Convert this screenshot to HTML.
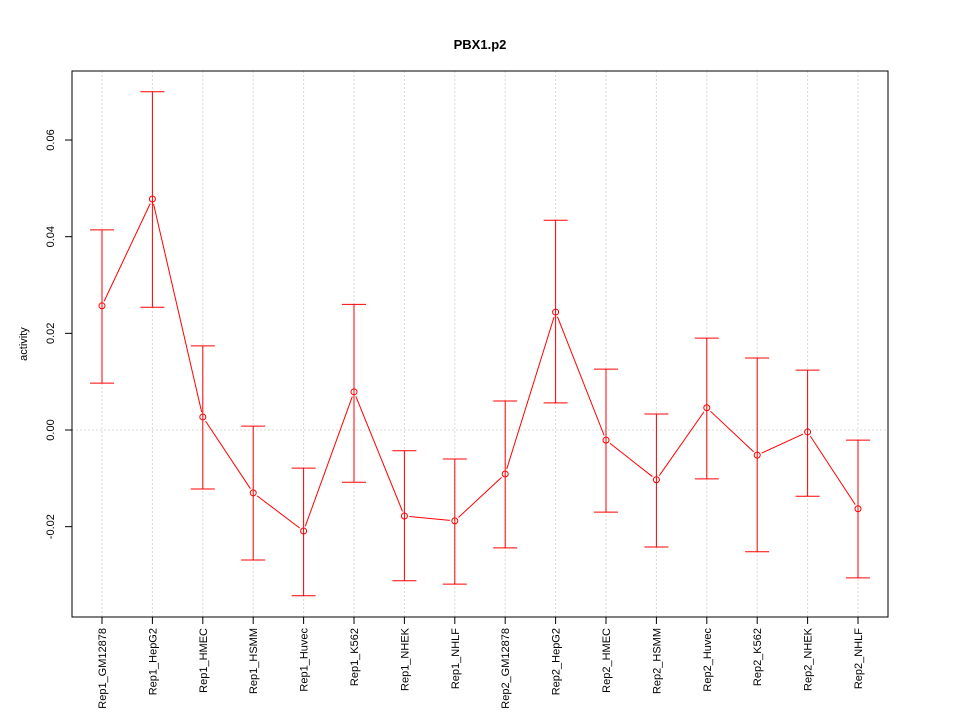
<!DOCTYPE html>
<html><head><meta charset="utf-8"><style>body{margin:0;background:#fff}svg{display:block;font-family:"Liberation Sans",sans-serif}</style></head>
<body>
<svg id="c" width="960" height="720">
<rect width="960" height="720" fill="#fff"/>
<text x="480" y="49" text-anchor="middle" font-size="13" font-weight="bold">PBX1.p2</text>
<text transform="translate(27,344) rotate(-90)" text-anchor="middle" font-size="11">activity</text>
<g id="g"></g>
<rect x="72" y="71" width="816" height="546" fill="none" stroke="#000"/>
</svg>
<script>
const categories=["Rep1_GM12878","Rep1_HepG2","Rep1_HMEC","Rep1_HSMM","Rep1_Huvec","Rep1_K562","Rep1_NHEK","Rep1_NHLF","Rep2_GM12878","Rep2_HepG2","Rep2_HMEC","Rep2_HSMM","Rep2_Huvec","Rep2_K562","Rep2_NHEK","Rep2_NHLF"];
const values=[0.0257,0.0478,0.0027,-0.013,-0.0209,0.0079,-0.0178,-0.0188,-0.0091,0.0244,-0.0021,-0.0103,0.0046,-0.0052,-0.0004,-0.0163];
const upper=[0.0414,0.070,0.0174,0.0008,-0.0079,0.026,-0.0043,-0.006,0.006,0.0434,0.0126,0.0033,0.019,0.0149,0.0124,-0.0021];
const lower=[0.0097,0.0254,-0.0122,-0.0269,-0.0343,-0.0108,-0.0312,-0.0319,-0.0244,0.0056,-0.017,-0.0242,-0.0101,-0.0252,-0.0137,-0.0306];
const yTicks=[-0.02,0,0.02,0.04,0.06];
const yTickLabels=["-0.02","0.00","0.02","0.04","0.06"];
const NS="http://www.w3.org/2000/svg",g=document.getElementById('g');
const X=i=>102+i*(858-102)/(categories.length-1);
const Y=v=>430-v*4833;
function el(t,a,p){const e=document.createElementNS(NS,t);for(const k in a)e.setAttribute(k,a[k]);(p||g).appendChild(e);return e;}
categories.forEach((c,i)=>{
 const gl=el('line',{x1:X(i),x2:X(i),y1:71,y2:617,stroke:'#d8d8d8','stroke-dasharray':'2,2'});
 
 
 const tk=el('line',{x1:X(i),x2:X(i),y1:617,y2:624,stroke:'#000'});
 
 
 const t=el('text',{transform:`translate(${X(i)+4},628) rotate(-90)`,'text-anchor':'end','font-size':11});
 t.textContent=c;
 
 
});
const zl=el('line',{x1:72,x2:888,y1:Y(0),y2:Y(0),stroke:'#d8d8d8','stroke-dasharray':'2,2'});


yTicks.forEach((v,i)=>{
 const tk=el('line',{x1:65,x2:72,y1:Y(v),y2:Y(v),stroke:'#000'});
 
 
 const t=el('text',{transform:`translate(54,${Y(v)}) rotate(-90)`,'text-anchor':'middle','font-size':11});
 t.textContent=yTickLabels[i];
 
 
});
values.forEach((v,i)=>{
 const x=X(i),a=Y(upper[i]),b=Y(lower[i]);
 const eb=el('path',{d:`M${x},${a}V${b}M${x-12},${a}H${x+12}M${x-12},${b}H${x+12}`,stroke:'red',fill:'none'});
 
 
});
for(let i=0;i<values.length-1;i++){
 const x1=X(i),y1=Y(values[i]),x2=X(i+1),y2=Y(values[i+1]);
 const dx=x2-x1,dy=y2-y1,L=Math.hypot(dx,dy),ux=dx/L,uy=dy/L,gp=5;
 const s=el('line',{x1:x1+ux*gp,y1:y1+uy*gp,x2:x2-ux*gp,y2:y2-uy*gp,stroke:'red'});
 
 
}
values.forEach((v,i)=>{
 const p=el('circle',{cx:X(i),cy:Y(v),r:3,stroke:'red',fill:'none'});
 
 
});
</script>
</body></html>
